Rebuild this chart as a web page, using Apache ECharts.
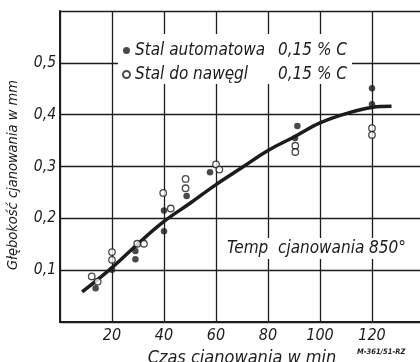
<!DOCTYPE html>
<html>
<head>
<meta charset="utf-8">
<script src="https://cdn.jsdelivr.net/npm/echarts@6/dist/echarts.min.js"></script>
<style>
  html, body { margin: 0; padding: 0; background: #fff; }
  #chart { width: 420px; height: 362px; }
</style>
</head>
<body>
<div id="chart"></div>
<script>
// time in minutes / depth in mm
const autoX = [13.7, 20, 29, 29, 40, 40, 48.7, 57.7, 90.4, 91.3, 120, 120]
const autoY = [0.065, 0.101, 0.137, 0.121, 0.215, 0.175, 0.243, 0.289, 0.355, 0.378, 0.451, 0.42]

const carbX = [12.2, 14.5, 20, 20, 29.7, 32.3, 39.7, 42.6, 48.3, 48.3, 60, 61.3, 90.5, 90.5, 120, 120]
const carbY = [0.088, 0.078, 0.135, 0.12, 0.151, 0.151, 0.249, 0.219, 0.276, 0.258, 0.304, 0.294, 0.34, 0.328, 0.374, 0.361]

const fitX = [8.5, 20, 30, 40, 50, 60, 70, 80, 90, 100, 110, 120, 127.5]
const fitY = [0.058, 0.105, 0.151, 0.194, 0.229, 0.265, 0.298, 0.331, 0.357, 0.384, 0.402, 0.414, 0.416]

const seriesNames = ["Stal automatowa", "Stal do nawęgl"]
const carbonLabel = "0,15 % C"

const xTicks = ["20", "40", "60", "80", "100", "120"]
const yTicks = ["0,1", "0,2", "0,3", "0,4", "0,5"]

const ink = "#1c1c1c"
const textFont = "DejaVu Sans Condensed"

const zip = (xs, ys) => xs.map((x, i) => [x, ys[i]])

const chart = echarts.init(document.getElementById("chart"))

const option = {
  animation: false,
  backgroundColor: "#fff",
  // plot runs past the right edge of the page, as in the scan
  grid: { left: 60, top: 11, width: 364, height: 311, outerBoundsMode: "none" },
  xAxis: {
    type: "value",
    min: 0,
    max: 140,
    interval: 20,
    name: "Czas cjanowania w min",
    nameLocation: "middle",
    nameGap: 21,
    nameTextStyle: { fontFamily: textFont, fontStyle: "italic", fontSize: 18, color: ink },
    axisLine: { show: true, lineStyle: { color: ink, width: 2 } },
    axisTick: { show: false },
    axisLabel: {
      margin: 6,
      fontFamily: textFont,
      fontStyle: "italic",
      fontSize: 16,
      color: ink,
      formatter: (v) => xTicks[v / 20 - 1] || "",
    },
    splitLine: { show: true, lineStyle: { color: ink, width: 1.3 } },
  },
  yAxis: {
    type: "value",
    min: 0,
    max: 0.6,
    interval: 0.1,
    axisLine: { show: true, lineStyle: { color: ink, width: 2 } },
    axisTick: { show: false },
    axisLabel: {
      margin: 4,
      fontFamily: textFont,
      fontStyle: "italic",
      fontSize: 15.5,
      color: ink,
      formatter: (v) => yTicks[Math.round(v * 10) - 1] || "",
    },
    splitLine: { show: true, lineStyle: { color: ink, width: 1.3 } },
  },
  legend: {
    orient: "vertical",
    left: 118,
    top: 34,
    padding: [8, 5, 1, 4],
    itemGap: 7,
    itemWidth: 7,
    itemHeight: 7,
    backgroundColor: "#fff",
    data: seriesNames,
    textStyle: {
      fontFamily: textFont,
      fontStyle: "italic",
      fontSize: 17,
      color: ink,
      rich: {
        a: { width: 143, fontFamily: textFont, fontStyle: "italic", fontSize: 17, color: ink, lineHeight: 18 },
        b: { fontFamily: textFont, fontStyle: "italic", fontSize: 17, color: ink, lineHeight: 18 },
      },
    },
    formatter: (name) => `{a|${name}}{b|${carbonLabel}}`,
  },
  graphic: [
    {
      type: "text",
      x: 13,
      y: 175,
      rotation: Math.PI / 2,
      style: {
        text: "Głębokość cjanowania w mm",
        fontFamily: textFont,
        fontStyle: "italic",
        fontSize: 14.5,
        fill: ink,
        align: "center",
        verticalAlign: "middle",
      },
    },
    {
      type: "text",
      left: 222,
      top: 238,
      z: 10,
      style: {
        text: "Temp  cjanowania 850°",
        fontFamily: textFont,
        fontStyle: "italic",
        fontSize: 17,
        fill: ink,
        backgroundColor: "#fff",
        padding: [2, 5, 2, 5],
      },
    },
    {
      type: "text",
      left: 357,
      top: 348,
      style: {
        text: "M-361/51-RZ",
        fontFamily: textFont,
        fontStyle: "italic",
        fontWeight: "bold",
        fontSize: 7.5,
        fill: ink,
      },
    },
  ],
  series: [
    {
      name: "fit",
      type: "line",
      data: zip(fitX, fitY),
      smooth: 0.4,
      showSymbol: false,
      lineStyle: { color: ink, width: 3.5 },
      z: 3,
    },
    {
      name: seriesNames[0],
      type: "scatter",
      data: zip(autoX, autoY),
      symbol: "circle",
      symbolSize: 6.5,
      itemStyle: { color: ink },
      z: 4,
    },
    {
      name: seriesNames[1],
      type: "scatter",
      data: zip(carbX, carbY),
      symbol: "circle",
      symbolSize: 6.5,
      itemStyle: { color: "#fff", borderColor: ink, borderWidth: 1.3 },
      z: 5,
    },
  ],
}

chart.setOption(option)
</script>
</body>
</html>
